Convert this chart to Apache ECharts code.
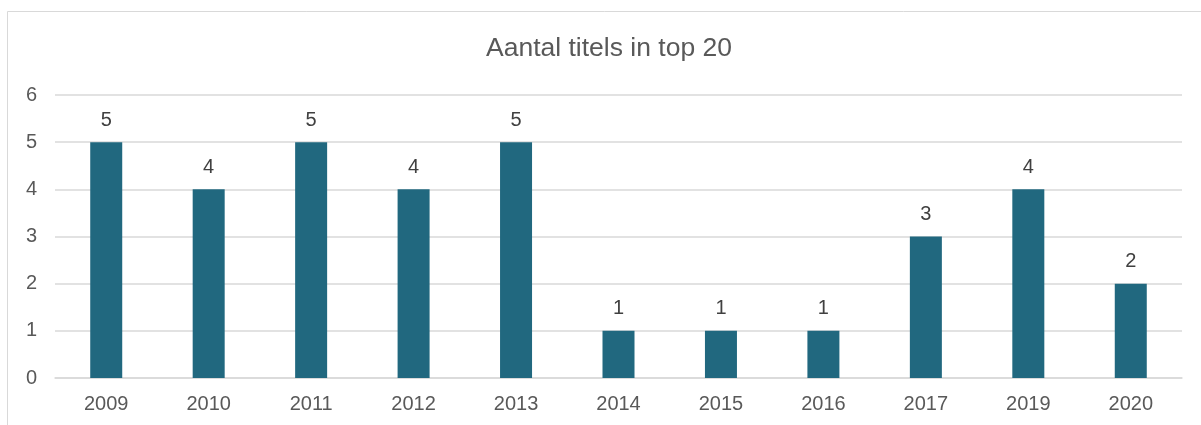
<!DOCTYPE html>
<html>
<head>
<meta charset="utf-8">
<style>
  html, body { margin: 0; padding: 0; background: #ffffff; }
  #chart { width: 1201px; height: 425px; }
</style>
<script src="https://cdn.jsdelivr.net/npm/echarts@6/dist/echarts.min.js"></script>
</head>
<body>
<div id="chart"></div>
<script>
// Number of titles in the top 20 per year
const years = ['2009', '2010', '2011', '2012', '2013', '2014', '2015', '2016', '2017', '2019', '2020'];
const titleCounts = [5, 4, 5, 4, 5, 1, 1, 1, 3, 4, 2];
const chartTitle = 'Aantal titels in top 20';

const FONT = '"Liberation Sans", Arial, sans-serif';

const chart = echarts.init(document.getElementById('chart'), null, { renderer: 'canvas' });

chart.setOption({
  animation: false,
  backgroundColor: '#ffffff',
  graphic: [
    {
      // outer chart frame
      type: 'rect',
      shape: { x: 7.5, y: 11.5, width: 1210, height: 430 },
      style: { fill: 'none', stroke: '#d9d9d9', lineWidth: 1 },
      silent: true,
      z: -1
    },
    {
      type: 'text',
      left: 486,
      top: 35,
      style: {
        text: chartTitle,
        fill: '#595959',
        font: '26.5px ' + FONT
      }
    }
  ],
  grid: { left: 55, right: 19, top: 95, bottom: 47, containLabel: false },
  xAxis: {
    type: 'category',
    data: years,
    axisLine: { show: true, lineStyle: { color: '#d9d9d9', width: 1.5 } },
    axisTick: { show: false },
    axisLabel: { color: '#595959', fontSize: 20, fontFamily: FONT, margin: 16 }
  },
  yAxis: {
    type: 'value',
    min: 0,
    max: 6,
    interval: 1,
    axisLine: { show: false },
    axisTick: { show: false },
    splitLine: { lineStyle: { color: '#d9d9d9', width: 1.5 } },
    axisLabel: { color: '#595959', fontSize: 20, fontFamily: FONT, margin: 18 }
  },
  series: [{
    type: 'bar',
    data: titleCounts,
    barWidth: 32,
    itemStyle: { color: '#21687f' },
    label: {
      show: true,
      position: 'top',
      distance: 12,
      color: '#404040',
      fontSize: 20,
      fontFamily: FONT
    }
  }]
});
</script>
</body>
</html>
